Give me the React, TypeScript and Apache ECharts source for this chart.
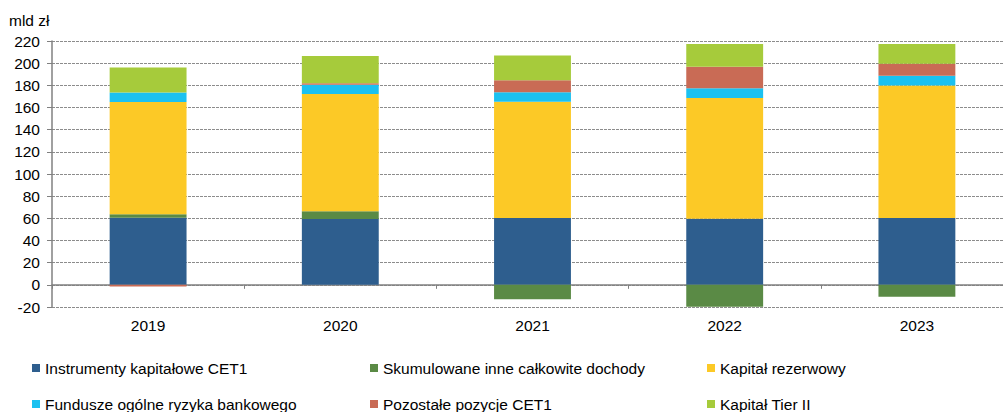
import React, { useEffect, useRef } from "react";
import * as echarts from "echarts";

const years = ["2019", "2020", "2021", "2022", "2023"];
const instrumentyCET1 = [60.5, 59.5, 60.3, 59.7, 60.3];
const skumulowane = [3.2, 7.0, -13.0, -19.7, -10.8];
const kapitalRezerwowy = [101.2, 105.7, 104.8, 108.8, 119.5];
const fundusze = [8.6, 8.4, 8.7, 8.9, 8.9];
const pozostale = [-1.5, 1.3, 10.8, 19.4, 10.8];
const tierII = [22.7, 24.5, 22.4, 20.6, 17.9];

const names = [
  "Instrumenty kapitałowe CET1",
  "Skumulowane inne całkowite dochody",
  "Kapitał rezerwowy",
  "Fundusze ogólne ryzyka bankowego",
  "Pozostałe pozycje CET1",
  "Kapitał Tier II",
];
const colors = ["#2E5E8E", "#5A8A45", "#FCC926", "#1BC1F0", "#C96B55", "#A6CB3B"];
const seriesData = [instrumentyCET1, skumulowane, kapitalRezerwowy, fundusze, pozostale, tierII];

const FONT = "Liberation Sans, Arial, sans-serif";
const FS = 15.5;

export default function App() {
  const ref = useRef<HTMLDivElement>(null);
  useEffect(() => {
    if (!ref.current) return;
    const chart = echarts.init(ref.current, undefined, { renderer: "svg" });
    const legendLeft = [32, 370, 707, 32, 370, 707];
    const legendTop = [360, 360, 360, 396, 396, 396];
    chart.setOption({
      animation: false,
      textStyle: { fontFamily: FONT },
      grid: { left: 52, top: 41, right: 0, bottom: 105, containLabel: false },
      graphic: [
        {
          type: "text",
          x: 9,
          y: 20,
          style: { text: "mld zł", fontSize: FS, fontFamily: FONT, fill: "#000", textVerticalAlign: "middle" },
        },
      ],
      legend: names.map((n, k) => ({
        data: [n],
        orient: "horizontal",
        left: legendLeft[k],
        top: legendTop[k],
        padding: 0,
        itemWidth: 8,
        itemHeight: 8,
        icon: "rect",
        textStyle: { fontFamily: FONT, fontSize: FS, color: "#000", lineHeight: 16 },
        selectedMode: false,
      })),
      xAxis: {
        type: "category",
        data: years,
        axisLine: { onZero: true, lineStyle: { color: "#808080", width: 1.5 } },
        axisTick: { show: true, length: 4, lineStyle: { color: "#808080" } },
        axisLabel: { margin: 10, fontSize: FS, color: "#000", fontFamily: FONT },
      },
      yAxis: {
        type: "value",
        min: -20,
        max: 220,
        interval: 20,
        axisLine: { show: true, lineStyle: { color: "#808080", width: 1.5 } },
        axisTick: { show: true, length: 5, lineStyle: { color: "#808080" } },
        axisLabel: { margin: 12, fontSize: FS, color: "#000", fontFamily: FONT },
        splitLine: { show: true, lineStyle: { color: "#8c8c8c", type: [3, 1], width: 1 } },
      },
      series: seriesData.map((d, i) => ({
        name: names[i],
        type: "bar",
        stack: "total",
        barWidth: "40%",
        data: d,
        itemStyle: { color: colors[i] },
      })),
    });
    return () => chart.dispose();
  }, []);
  return (
    <div
      style={{
        position: "absolute",
        left: 0,
        top: 0,
        width: 1003,
        height: 412,
        overflow: "hidden",
        background: "#fff",
      }}
    >
      <div ref={ref} style={{ width: 1013, height: 412 }} />
    </div>
  );
}
